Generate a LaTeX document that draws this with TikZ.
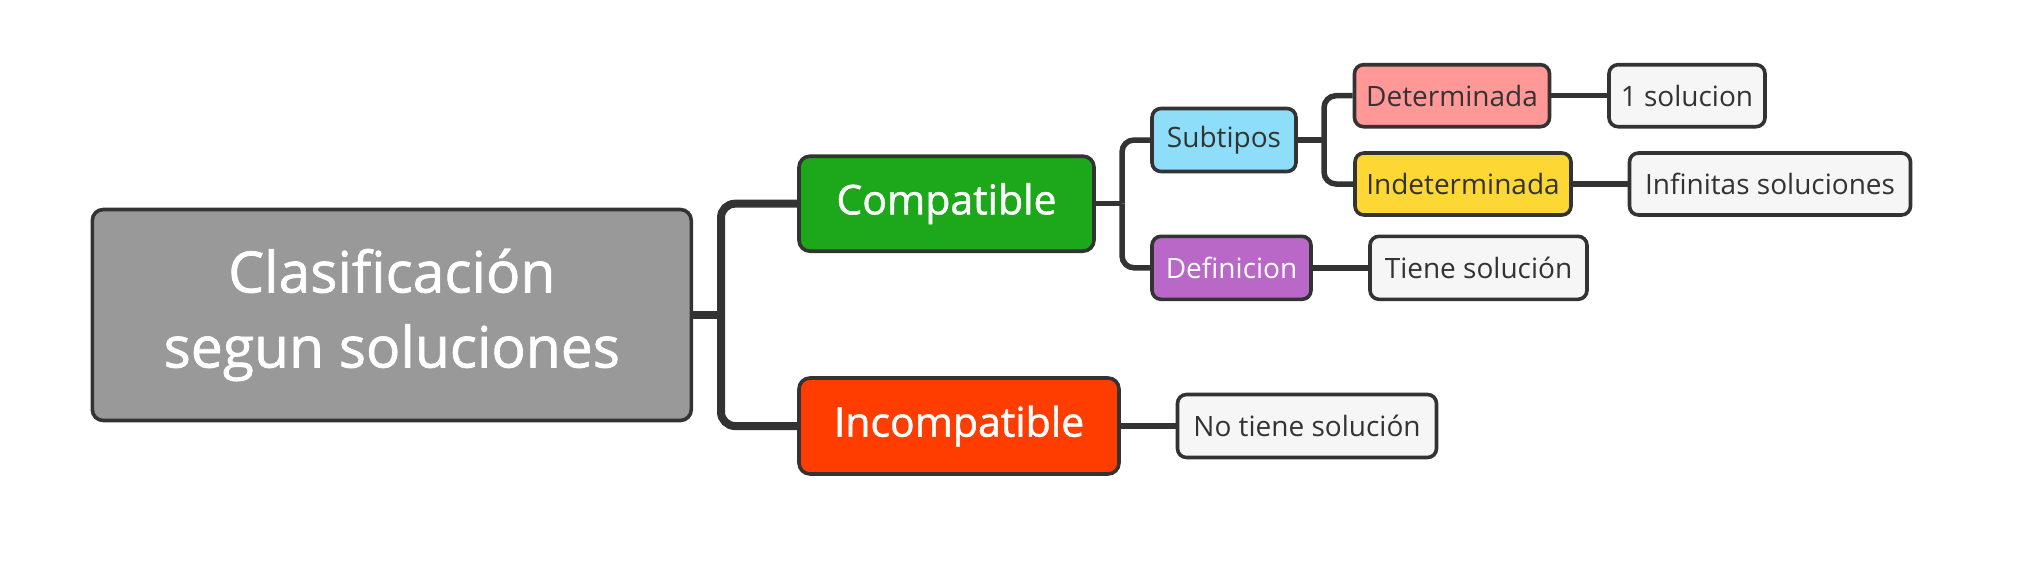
\documentclass[tikz,border=0pt]{standalone}
\usepackage{fontspec}
\setmainfont{Open Sans}
\newfontfamily\heavyfont{Open Sans}[FakeBold=1.2]
\definecolor{edge}{HTML}{333333}
\definecolor{rootfill}{HTML}{999999}
\definecolor{greenfill}{HTML}{1DA71A}
\definecolor{redfill}{HTML}{FF3D00}
\definecolor{bluefill}{HTML}{8EDEF9}
\definecolor{purplefill}{HTML}{BA68C8}
\definecolor{pinkfill}{HTML}{FF9896}
\definecolor{yellowfill}{HTML}{FDD835}
\definecolor{leaffill}{HTML}{F6F6F6}
\begin{document}
\begin{tikzpicture}[x=1pt,y=-1pt,
  box/.style={draw=edge, line width=3.6pt, rounded corners=11pt, inner sep=0pt, align=center},
  rootbox/.style={box, fill=rootfill, text=white, font=\heavyfont\fontsize{57}{75}\selectfont},
  bigbox/.style={box, text=white, font=\heavyfont\fontsize{41}{48}\selectfont},
  smallbox/.style={box, rounded corners=9pt, text=edge, font=\fontsize{28}{34}\selectfont},
  conn/.style={draw=edge, line width=5.5pt},
  thickconn/.style={draw=edge, line width=8pt},
]
\useasboundingbox (0,0) rectangle (2027,563);

\node[rootbox, minimum width=599pt, minimum height=211pt] (main) at (391.8,315) {Clasificación\\segun soluciones};
\node[bigbox, fill=greenfill, minimum width=295pt, minimum height=95pt] (compat) at (946.5,203.7) {Compatible};
\node[bigbox, fill=redfill, minimum width=320pt, minimum height=96pt] (incompat) at (959,426) {Incompatible};
\node[smallbox, fill=bluefill, minimum width=144pt, minimum height=63pt] (subtipos) at (1224,140) {Subtipos};
\node[smallbox, fill=purplefill, text=white, minimum width=159pt, minimum height=63pt] (definicion) at (1231.5,267.8) {Definicion};
\node[smallbox, fill=pinkfill, minimum width=195pt, minimum height=62pt] (determinada) at (1452,95.7) {Determinada};
\node[smallbox, fill=yellowfill, minimum width=216pt, minimum height=62pt] (indeterminada) at (1463,184) {Indeterminada};
\node[smallbox, fill=leaffill, minimum width=156pt, minimum height=62pt] (sol1) at (1687,95.7) {1 solucion};
\node[smallbox, fill=leaffill, minimum width=281pt, minimum height=62pt] (infinitas) at (1770,184) {Infinitas soluciones};
\node[smallbox, fill=leaffill, minimum width=217pt, minimum height=63pt] (tiene) at (1478.5,267.8) {Tiene solución};
\node[smallbox, fill=leaffill, minimum width=259pt, minimum height=63pt] (notiene) at (1307,426) {No tiene solución};

\coordinate (t1) at (721,0);
\coordinate (t2) at (1122,0);
\coordinate (t3) at (1324,0);

\draw[thickconn] (main.east) -- (t1 |- main.east);
\draw[thickconn, rounded corners=14pt] (t1 |- main.east) -- (t1 |- compat.west) -- (compat.west);
\draw[thickconn, rounded corners=14pt] (t1 |- main.east) -- (t1 |- incompat.west) -- (incompat.west);

\draw[conn] (compat.east) -- (t2 |- compat.east);
\draw[conn, rounded corners=12pt] (t2 |- compat.east) -- (t2 |- subtipos.west) -- (subtipos.west);
\draw[conn, rounded corners=12pt] (t2 |- compat.east) -- (t2 |- definicion.west) -- (definicion.west);

\draw[conn] (subtipos.east) -- (t3 |- subtipos.east);
\draw[conn, rounded corners=12pt] (t3 |- subtipos.east) -- (t3 |- determinada.west) -- (determinada.west);
\draw[conn, rounded corners=12pt] (t3 |- subtipos.east) -- (t3 |- indeterminada.west) -- (indeterminada.west);

\draw[conn] (determinada.east) -- (sol1.west);
\draw[conn] (indeterminada.east) -- (infinitas.west);
\draw[conn] (definicion.east) -- (tiene.west);
\draw[conn] (incompat.east) -- (notiene.west);
\end{tikzpicture}
\end{document}
